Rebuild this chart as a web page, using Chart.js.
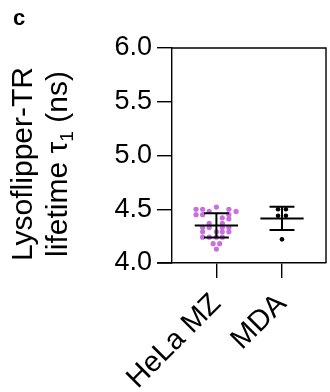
<!DOCTYPE html>
<html>
<head>
<meta charset="utf-8">
<script src="https://cdn.jsdelivr.net/npm/chart.js@4"></script>
<style>
  html, body { margin: 0; padding: 0; background: #fff; }
  #wrap { width: 330px; height: 392px; position: relative; }
</style>
</head>
<body>
<div id="wrap"><canvas id="lifetime-chart"></canvas></div>
<script>
const categories = ['HeLa MZ', 'MDA'];
const yTicks = [4.0, 4.5, 5.0, 5.5, 6.0];

// HeLa MZ single-cell values and their swarm offsets (category units)
const helaValues = [
  4.52,
  4.50, 4.50, 4.50,
  4.48, 4.48,
  4.45, 4.45, 4.45,
  4.42, 4.41,
  4.37, 4.37,
  4.33, 4.33, 4.33, 4.33,
  4.29, 4.29, 4.29, 4.29,
  4.24, 4.24, 4.24, 4.24,
  4.18, 4.18,
  4.13
];
const helaOffsets = [
  0.0,
  -0.31, -0.21, 0.19,
  -0.11, 0.30,
  -0.31, -0.21, 0.19,
  0.09, 0.19,
  -0.11, 0.09,
  -0.21, -0.11, 0.09, 0.19,
  -0.21, 0.0, 0.09, 0.19,
  -0.21, -0.11, 0.0, 0.09,
  -0.05, 0.05,
  0.0
];

const mdaValues = [4.50, 4.50, 4.44, 4.44, 4.22];
const mdaOffsets = [-0.06, 0.06, -0.06, 0.06, 0.0];

const means = [4.35, 4.415];
const sds = [0.113, 0.108];

const helaPoints = helaValues.map((v, i) => ({ x: 0 + helaOffsets[i], y: v }));
const mdaPoints = mdaValues.map((v, i) => ({ x: 1 + mdaOffsets[i], y: v }));

const FONT = "'Liberation Sans', Arial, sans-serif";

// mean +/- SD bars, frame, extended x axis, titles
const decorations = {
  id: 'decorations',
  afterDatasetsDraw(chart) {
    const { ctx, chartArea, scales } = chart;
    const x = scales.x, y = scales.y;
    ctx.save();
    ctx.strokeStyle = '#000';
    ctx.lineWidth = 2;
    means.forEach((m, i) => {
      const cx = x.getPixelForValue(i);
      const halfMean = x.getPixelForValue(i + 0.33) - cx;
      const halfCap = x.getPixelForValue(i + 0.19) - cx;
      const yM = y.getPixelForValue(m);
      const yHi = y.getPixelForValue(m + sds[i]);
      const yLo = y.getPixelForValue(m - sds[i]);
      ctx.beginPath();
      ctx.moveTo(cx - halfMean, yM); ctx.lineTo(cx + halfMean, yM);
      ctx.moveTo(cx - halfCap, yHi); ctx.lineTo(cx + halfCap, yHi);
      ctx.moveTo(cx - halfCap, yLo); ctx.lineTo(cx + halfCap, yLo);
      ctx.moveTo(cx, yHi); ctx.lineTo(cx, yLo);
      ctx.stroke();
    });

    // frame (top and right) and x axis running under the y ticks
    ctx.lineWidth = 1.4;
    ctx.beginPath();
    ctx.moveTo(chartArea.left, chartArea.top);
    ctx.lineTo(chartArea.right, chartArea.top);
    ctx.lineTo(chartArea.right, chartArea.bottom);
    ctx.moveTo(chartArea.left - 15, chartArea.bottom);
    ctx.lineTo(chartArea.left, chartArea.bottom);
    ctx.stroke();

    // panel letter
    ctx.fillStyle = '#000';
    ctx.font = 'bold 22px ' + FONT;
    ctx.textBaseline = 'alphabetic';
    ctx.textAlign = 'left';
    ctx.fillText('c', 13, 25);

    // y axis title, two lines, rotated
    ctx.font = '30px ' + FONT;
    ctx.textAlign = 'center';
    const cy = 164;
    ctx.translate(32, cy);
    ctx.rotate(-Math.PI / 2);
    ctx.fillText('Lysoflipper-TR', 0, 0);
    ctx.restore();

    ctx.save();
    ctx.fillStyle = '#000';
    ctx.font = '30px ' + FONT;
    ctx.textBaseline = 'alphabetic';
    ctx.translate(67, cy);
    ctx.rotate(-Math.PI / 2);
    const a = 'lifetime τ', sub = '1', b = ' (ns)';
    const wa = ctx.measureText(a).width;
    const wb = ctx.measureText(b).width;
    ctx.font = '19px ' + FONT;
    const ws = ctx.measureText(sub).width;
    const start = -(wa + ws + wb) / 2;
    ctx.textAlign = 'left';
    ctx.font = '30px ' + FONT;
    ctx.fillText(a, start, 0);
    ctx.font = '19px ' + FONT;
    ctx.fillText(sub, start + wa, 6);
    ctx.font = '30px ' + FONT;
    ctx.fillText(b, start + wa + ws, 0);
    ctx.restore();
  }
};

new Chart(document.getElementById('lifetime-chart'), {
  type: 'scatter',
  data: {
    datasets: [
      {
        label: categories[0],
        data: helaPoints,
        backgroundColor: '#c96fe0',
        borderWidth: 0,
        pointRadius: 2.6
      },
      {
        label: categories[1],
        data: mdaPoints,
        backgroundColor: '#000',
        borderWidth: 0,
        pointRadius: 2.3
      }
    ]
  },
  options: {
    responsive: true,
    maintainAspectRatio: false,
    animation: false,
    layout: { padding: { top: 48, right: 3, left: 0, bottom: 0 } },
    plugins: {
      legend: { display: false },
      tooltip: { enabled: false }
    },
    scales: {
      x: {
        type: 'linear',
        min: -0.677,
        max: 1.671,
        afterFit: (s) => { s.height = 129; },
        afterBuildTicks: (s) => { s.ticks = categories.map((c, i) => ({ value: i })); },
        grid: {
          display: true,
          drawOnChartArea: false,
          drawTicks: true,
          tickLength: 15,
          color: '#000',
          lineWidth: 1.4
        },
        border: { display: true, color: '#000', width: 1.4 },
        ticks: {
          autoSkip: false,
          maxRotation: 45,
          minRotation: 45,
          padding: 9,
          color: '#000',
          font: { family: FONT, size: 29 },
          callback: (v) => categories[v]
        }
      },
      y: {
        min: 4.0,
        max: 6.0,
        afterFit: (s) => { s.width = 172; },
        afterBuildTicks: (s) => { s.ticks = yTicks.map(v => ({ value: v })); },
        grid: {
          display: true,
          drawOnChartArea: false,
          drawTicks: true,
          tickLength: 15,
          color: '#000',
          lineWidth: 1.4
        },
        border: { display: true, color: '#000', width: 1.4 },
        ticks: {
          padding: 5,
          color: '#000',
          font: { family: FONT, size: 27 },
          callback: (v) => v.toFixed(1)
        }
      }
    }
  },
  plugins: [decorations]
});
</script>
</body>
</html>
